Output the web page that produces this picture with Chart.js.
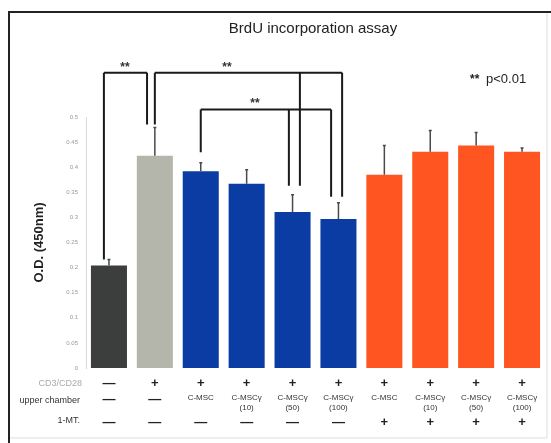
<!DOCTYPE html>
<html>
<head>
<meta charset="utf-8">
<script src="https://cdn.jsdelivr.net/npm/chart.js@4.4.0/dist/chart.umd.min.js"></script>
<style>
  body { margin: 0; background: #fff; }
  #wrap { width: 551px; height: 443px; }
</style>
</head>
<body>
<div id="wrap"><canvas id="brdu" width="551" height="443"></canvas></div>
<script>
// ===============================
// DATA
// ===============================
const groups = ['ctrl', 'stim', 'cmsc', 'g10', 'g50', 'g100', 'cmsc_mt', 'g10_mt', 'g50_mt', 'g100_mt'];
const odValues = [0.204, 0.423, 0.392, 0.367, 0.311, 0.297, 0.385, 0.431, 0.443, 0.431];
const odErrors = [0.012, 0.056, 0.017, 0.028, 0.034, 0.032, 0.058, 0.042, 0.026, 0.007];
const yTicks = [0, 0.05, 0.1, 0.15, 0.2, 0.25, 0.3, 0.35, 0.4, 0.45, 0.5];

const rowCD3 = ['—', '+', '+', '+', '+', '+', '+', '+', '+', '+'];
const rowUpper = [['—'], ['—'], ['C-MSC'], ['C-MSCγ', '(10)'], ['C-MSCγ', '(50)'], ['C-MSCγ', '(100)'],
                  ['C-MSC'], ['C-MSCγ', '(10)'], ['C-MSCγ', '(50)'], ['C-MSCγ', '(100)']];
const rowMT = ['—', '—', '—', '—', '—', '—', '+', '+', '+', '+'];

// significance brackets: top level, label position (category units), legs [bar, y bottom]
const brackets = [
  { top: 0.588, label: 0.35, legs: [[0, 0.216], [1, 0.485]] },
  { top: 0.588, label: 2.57, legs: [[1, 0.485], [4, 0.363], [5, 0.341]] },
  { top: 0.515, label: 3.18, legs: [[2, 0.430], [4, 0.363], [5, 0.341]] }
];
const legShift = [[-0.11, -0.17], [0, 0.16, 0.08], [0, -0.08, -0.16]];

const barColors = ['#3b3e3c', '#b4b5ab', '#0b3ca3', '#0b3ca3', '#0b3ca3', '#0b3ca3',
                   '#fe5521', '#fe5521', '#fe5521', '#fe5521'];

// ===============================
// EXTRA DRAWING
// ===============================
const extras = {
  id: 'extras',
  afterDatasetsDraw(chart) {
    const { ctx, scales: { x, y } } = chart;
    const step = x.getPixelForValue(1) - x.getPixelForValue(0);
    const px = v => x.getPixelForValue(0) + v * step;

    ctx.save();
    // error bars (upper only)
    ctx.strokeStyle = '#4a4a4a';
    ctx.lineWidth = 1.5;
    odValues.forEach((v, i) => {
      const cx = px(i);
      const y0 = y.getPixelForValue(v);
      const y1 = y.getPixelForValue(v + odErrors[i]);
      ctx.beginPath();
      ctx.moveTo(cx, y0); ctx.lineTo(cx, y1);
      ctx.moveTo(cx - 1.5, y1); ctx.lineTo(cx + 1.5, y1);
      ctx.stroke();
    });

    // brackets
    ctx.strokeStyle = '#1a1a1a';
    ctx.lineWidth = 2;
    ctx.fillStyle = '#333';
    ctx.font = 'bold 12px "Liberation Sans", Arial';
    ctx.textAlign = 'center';
    ctx.textBaseline = 'alphabetic';
    brackets.forEach((b, k) => {
      const yt = y.getPixelForValue(b.top);
      const xs = b.legs.map((l, j) => px(l[0] + legShift[k][j]));
      ctx.beginPath();
      ctx.moveTo(Math.min(...xs), yt); ctx.lineTo(Math.max(...xs), yt);
      b.legs.forEach((l, j) => {
        ctx.moveTo(xs[j], yt); ctx.lineTo(xs[j], y.getPixelForValue(l[1]));
      });
      ctx.stroke();
      ctx.fillText('**', px(b.label), yt - 2);
    });

    // condition table under the bars
    ctx.textAlign = 'center';
    ctx.textBaseline = 'middle';
    groups.forEach((g, i) => {
      const cx = px(i);
      ctx.fillStyle = '#222';
      ctx.font = 'bold 13px "Liberation Sans", Arial';
      ctx.fillText(rowCD3[i], cx, 383);
      ctx.fillText(rowMT[i], cx, 422);
      const up = rowUpper[i];
      if (up.length === 1 && up[0] === '—') {
        ctx.fillText(up[0], cx, 399);
      } else {
        ctx.font = '8px "Liberation Sans", Arial';
        ctx.fillStyle = '#333';
        ctx.fillText(up[0], cx, 398);
        if (up[1]) ctx.fillText(up[1], cx, 408);
      }
    });
    ctx.textAlign = 'right';
    ctx.font = '9px "Liberation Sans", Arial';
    ctx.fillStyle = '#aaa';
    ctx.fillText('CD3/CD28', 82, 384);
    ctx.fillStyle = '#333';
    ctx.fillText('upper chamber', 80, 401);
    ctx.fillText('1-MT.', 80, 421);

    // title and p-value note
    ctx.textAlign = 'center';
    ctx.textBaseline = 'middle';
    ctx.fillStyle = '#222';
    ctx.font = '15px "Liberation Sans", Arial';
    ctx.fillText('BrdU incorporation assay', 313, 29);
    ctx.textAlign = 'left';
    ctx.font = 'bold 12px "Liberation Sans", Arial';
    ctx.fillText('**', 470, 80);
    ctx.font = '13px "Liberation Sans", Arial';
    ctx.fillText('p<0.01', 486, 79);

    // frame
    ctx.strokeStyle = '#222';
    ctx.lineWidth = 2;
    ctx.beginPath();
    ctx.moveTo(9, 443); ctx.lineTo(9, 12); ctx.lineTo(551, 12);
    ctx.stroke();
    ctx.strokeStyle = '#ddd';
    ctx.lineWidth = 1;
    ctx.beginPath();
    ctx.moveTo(10, 438); ctx.lineTo(547, 438);
    ctx.moveTo(547, 13); ctx.lineTo(547, 438);
    ctx.stroke();
    ctx.restore();
  }
};

// ===============================
// CHART
// ===============================
new Chart(document.getElementById('brdu'), {
  type: 'bar',
  data: {
    labels: groups,
    datasets: [{
      data: odValues,
      backgroundColor: barColors,
      barPercentage: 0.785,
      categoryPercentage: 1
    }]
  },
  options: {
    responsive: false,
    animation: false,
    layout: { padding: { left: 0, right: 6, top: 117, bottom: 75 } },
    plugins: { legend: { display: false }, title: { display: false }, tooltip: { enabled: false } },
    scales: {
      x: { display: false },
      y: {
        min: 0, max: 0.5,
        afterFit: s => { s.width = 86; },
        afterBuildTicks: s => { s.ticks = yTicks.map(v => ({ value: v })); },
        ticks: {
          padding: 8,
          color: '#999',
          font: { size: 6, family: '"Liberation Sans", Arial' },
          callback: v => String(v)
        },
        grid: { display: false, drawTicks: false },
        border: { display: true, color: '#d8d8d8', width: 1 },
        title: {
          display: true,
          text: 'O.D. (450nm)',
          color: '#222',
          font: { size: 13, weight: 'bold', family: '"Liberation Sans", Arial' },
          padding: { top: 32, bottom: 0 }
        }
      }
    }
  },
  plugins: [extras]
});
</script>
</body>
</html>
